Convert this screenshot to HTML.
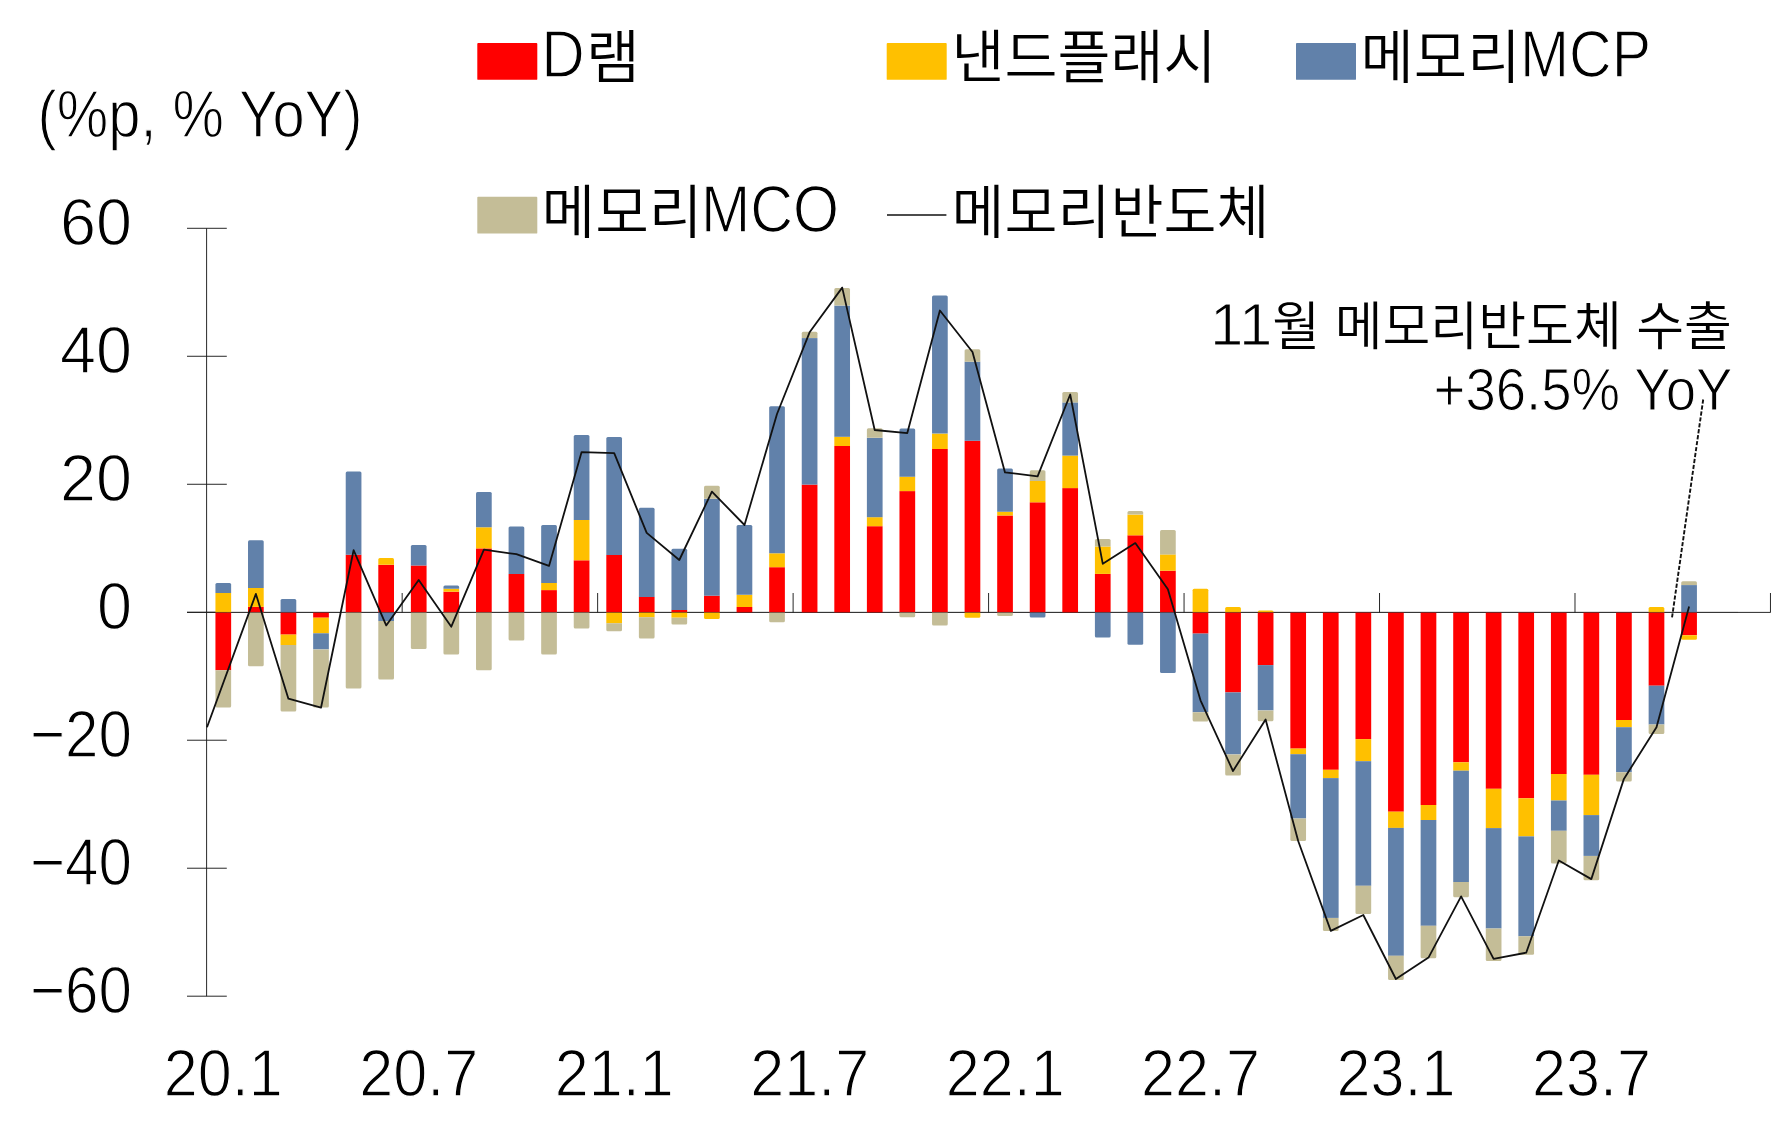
<!DOCTYPE html>
<html lang="ko"><head><meta charset="utf-8"><title>메모리반도체 수출 기여도</title>
<style>
html,body{margin:0;padding:0;background:#fff;}
body{width:1782px;height:1129px;overflow:hidden;font-family:"Liberation Sans","Noto Sans CJK KR",sans-serif;}
svg{display:block}
text{font-family:"Liberation Sans","Noto Sans CJK KR",sans-serif;fill:#000;font-weight:350}
</style></head><body>
<svg width="1782" height="1129" viewBox="0 0 1782 1129">
<rect width="1782" height="1129" fill="#fff"/>
<g stroke="#1c1c1c" stroke-width="0.95" fill="none">
<path d="M206.6 228.3V996.2"/>
<path d="M187 228.30H226.8"/>
<path d="M187 356.28H226.8"/>
<path d="M187 484.27H226.8"/>
<path d="M187 612.25H226.8"/>
<path d="M187 740.23H226.8"/>
<path d="M187 868.22H226.8"/>
<path d="M187 996.20H226.8"/>
<path d="M187 612.40H1770.5"/>
<path d="M402.17 612.50V593"/>
<path d="M597.64 612.50V593"/>
<path d="M793.11 612.50V593"/>
<path d="M988.58 612.50V593"/>
<path d="M1184.05 612.50V593"/>
<path d="M1379.52 612.50V593"/>
<path d="M1574.99 612.50V593"/>
<path d="M1770.46 612.50V593"/>
</g>
<g shape-rendering="geometricPrecision">
<rect x="215.44" y="593.00" width="15.7" height="19.50" fill="#FFC000"/>
<path d="M215.44 593.00V584.50Q215.44 583.00 216.94 583.00H229.64Q231.14 583.00 231.14 584.50V593.00Z" fill="#6181AA"/>
<rect x="215.44" y="612.50" width="15.7" height="57.70" fill="#FF0000"/>
<path d="M215.44 670.20V706.00Q215.44 707.50 216.94 707.50H229.64Q231.14 707.50 231.14 706.00V670.20Z" fill="#C4BD97"/>
<rect x="248.01" y="606.90" width="15.7" height="5.60" fill="#FF0000"/>
<rect x="248.01" y="587.90" width="15.7" height="19.00" fill="#FFC000"/>
<path d="M248.01 587.90V541.80Q248.01 540.30 249.51 540.30H262.21Q263.71 540.30 263.71 541.80V587.90Z" fill="#6181AA"/>
<path d="M248.01 612.50V664.80Q248.01 666.30 249.51 666.30H262.21Q263.71 666.30 263.71 664.80V612.50Z" fill="#C4BD97"/>
<path d="M280.58 612.50V600.60Q280.58 599.10 282.08 599.10H294.78Q296.28 599.10 296.28 600.60V612.50Z" fill="#6181AA"/>
<rect x="280.58" y="612.50" width="15.7" height="22.10" fill="#FF0000"/>
<rect x="280.58" y="634.60" width="15.7" height="10.40" fill="#FFC000"/>
<path d="M280.58 645.00V710.00Q280.58 711.50 282.08 711.50H294.78Q296.28 711.50 296.28 710.00V645.00Z" fill="#C4BD97"/>
<rect x="313.16" y="612.50" width="15.7" height="5.20" fill="#FF0000"/>
<rect x="313.16" y="617.70" width="15.7" height="15.60" fill="#FFC000"/>
<rect x="313.16" y="633.30" width="15.7" height="16.10" fill="#6181AA"/>
<path d="M313.16 649.40V706.00Q313.16 707.50 314.66 707.50H327.36Q328.86 707.50 328.86 706.00V649.40Z" fill="#C4BD97"/>
<rect x="345.73" y="554.70" width="15.7" height="57.80" fill="#FF0000"/>
<path d="M345.73 554.70V473.10Q345.73 471.60 347.23 471.60H359.93Q361.43 471.60 361.43 473.10V554.70Z" fill="#6181AA"/>
<path d="M345.73 612.50V687.10Q345.73 688.60 347.23 688.60H359.93Q361.43 688.60 361.43 687.10V612.50Z" fill="#C4BD97"/>
<rect x="378.30" y="564.80" width="15.7" height="47.70" fill="#FF0000"/>
<path d="M378.30 564.80V559.50Q378.30 558.00 379.80 558.00H392.50Q394.00 558.00 394.00 559.50V564.80Z" fill="#FFC000"/>
<rect x="378.30" y="612.50" width="15.7" height="8.50" fill="#6181AA"/>
<path d="M378.30 621.00V678.10Q378.30 679.60 379.80 679.60H392.50Q394.00 679.60 394.00 678.10V621.00Z" fill="#C4BD97"/>
<rect x="410.87" y="565.50" width="15.7" height="47.00" fill="#FF0000"/>
<path d="M410.87 565.50V546.50Q410.87 545.00 412.37 545.00H425.07Q426.57 545.00 426.57 546.50V565.50Z" fill="#6181AA"/>
<path d="M410.87 612.50V647.40Q410.87 648.90 412.37 648.90H425.07Q426.57 648.90 426.57 647.40V612.50Z" fill="#C4BD97"/>
<rect x="443.45" y="591.70" width="15.7" height="20.80" fill="#FF0000"/>
<rect x="443.45" y="588.80" width="15.7" height="2.90" fill="#FFC000"/>
<path d="M443.45 588.80V586.90Q443.45 585.40 444.95 585.40H457.65Q459.15 585.40 459.15 586.90V588.80Z" fill="#6181AA"/>
<path d="M443.45 612.50V652.90Q443.45 654.40 444.95 654.40H457.65Q459.15 654.40 459.15 652.90V612.50Z" fill="#C4BD97"/>
<rect x="476.02" y="548.40" width="15.7" height="64.10" fill="#FF0000"/>
<rect x="476.02" y="527.30" width="15.7" height="21.10" fill="#FFC000"/>
<path d="M476.02 527.30V493.50Q476.02 492.00 477.52 492.00H490.22Q491.72 492.00 491.72 493.50V527.30Z" fill="#6181AA"/>
<path d="M476.02 612.50V668.70Q476.02 670.20 477.52 670.20H490.22Q491.72 670.20 491.72 668.70V612.50Z" fill="#C4BD97"/>
<rect x="508.59" y="574.00" width="15.7" height="38.50" fill="#FF0000"/>
<path d="M508.59 574.00V527.90Q508.59 526.40 510.09 526.40H522.79Q524.29 526.40 524.29 527.90V574.00Z" fill="#6181AA"/>
<path d="M508.59 612.50V638.90Q508.59 640.40 510.09 640.40H522.79Q524.29 640.40 524.29 638.90V612.50Z" fill="#C4BD97"/>
<rect x="541.17" y="590.10" width="15.7" height="22.40" fill="#FF0000"/>
<rect x="541.17" y="583.00" width="15.7" height="7.10" fill="#FFC000"/>
<path d="M541.17 583.00V526.50Q541.17 525.00 542.67 525.00H555.37Q556.87 525.00 556.87 526.50V583.00Z" fill="#6181AA"/>
<path d="M541.17 612.50V653.00Q541.17 654.50 542.67 654.50H555.37Q556.87 654.50 556.87 653.00V612.50Z" fill="#C4BD97"/>
<rect x="573.74" y="560.30" width="15.7" height="52.20" fill="#FF0000"/>
<rect x="573.74" y="519.90" width="15.7" height="40.40" fill="#FFC000"/>
<path d="M573.74 519.90V436.50Q573.74 435.00 575.24 435.00H587.94Q589.44 435.00 589.44 436.50V519.90Z" fill="#6181AA"/>
<path d="M573.74 612.50V627.00Q573.74 628.50 575.24 628.50H587.94Q589.44 628.50 589.44 627.00V612.50Z" fill="#C4BD97"/>
<rect x="606.31" y="554.90" width="15.7" height="57.60" fill="#FF0000"/>
<path d="M606.31 554.90V438.50Q606.31 437.00 607.81 437.00H620.51Q622.01 437.00 622.01 438.50V554.90Z" fill="#6181AA"/>
<rect x="606.31" y="612.50" width="15.7" height="10.80" fill="#FFC000"/>
<path d="M606.31 623.30V629.70Q606.31 631.20 607.81 631.20H620.51Q622.01 631.20 622.01 629.70V623.30Z" fill="#C4BD97"/>
<rect x="638.88" y="596.90" width="15.7" height="15.60" fill="#FF0000"/>
<path d="M638.88 596.90V509.20Q638.88 507.70 640.38 507.70H653.08Q654.58 507.70 654.58 509.20V596.90Z" fill="#6181AA"/>
<rect x="638.88" y="612.50" width="15.7" height="4.80" fill="#FFC000"/>
<path d="M638.88 617.30V636.90Q638.88 638.40 640.38 638.40H653.08Q654.58 638.40 654.58 636.90V617.30Z" fill="#C4BD97"/>
<rect x="671.46" y="609.90" width="15.7" height="2.60" fill="#FF0000"/>
<path d="M671.46 609.90V550.30Q671.46 548.80 672.96 548.80H685.66Q687.16 548.80 687.16 550.30V609.90Z" fill="#6181AA"/>
<rect x="671.46" y="612.50" width="15.7" height="5.20" fill="#FFC000"/>
<path d="M671.46 617.70V623.00Q671.46 624.50 672.96 624.50H685.66Q687.16 624.50 687.16 623.00V617.70Z" fill="#C4BD97"/>
<rect x="704.03" y="595.70" width="15.7" height="16.80" fill="#FF0000"/>
<rect x="704.03" y="498.80" width="15.7" height="96.90" fill="#6181AA"/>
<path d="M704.03 498.80V487.20Q704.03 485.70 705.53 485.70H718.23Q719.73 485.70 719.73 487.20V498.80Z" fill="#C4BD97"/>
<path d="M704.03 612.50V617.40Q704.03 618.90 705.53 618.90H718.23Q719.73 618.90 719.73 617.40V612.50Z" fill="#FFC000"/>
<rect x="736.60" y="607.00" width="15.7" height="5.50" fill="#FF0000"/>
<rect x="736.60" y="594.80" width="15.7" height="12.20" fill="#FFC000"/>
<path d="M736.60 594.80V526.50Q736.60 525.00 738.10 525.00H750.80Q752.30 525.00 752.30 526.50V594.80Z" fill="#6181AA"/>
<rect x="769.18" y="567.20" width="15.7" height="45.30" fill="#FF0000"/>
<rect x="769.18" y="553.30" width="15.7" height="13.90" fill="#FFC000"/>
<path d="M769.18 553.30V407.70Q769.18 406.20 770.68 406.20H783.38Q784.88 406.20 784.88 407.70V553.30Z" fill="#6181AA"/>
<path d="M769.18 612.50V620.70Q769.18 622.20 770.68 622.20H783.38Q784.88 622.20 784.88 620.70V612.50Z" fill="#C4BD97"/>
<rect x="801.75" y="484.60" width="15.7" height="127.90" fill="#FF0000"/>
<rect x="801.75" y="338.10" width="15.7" height="146.50" fill="#6181AA"/>
<path d="M801.75 338.10V333.30Q801.75 331.80 803.25 331.80H815.95Q817.45 331.80 817.45 333.30V338.10Z" fill="#C4BD97"/>
<rect x="834.32" y="446.00" width="15.7" height="166.50" fill="#FF0000"/>
<rect x="834.32" y="436.80" width="15.7" height="9.20" fill="#FFC000"/>
<rect x="834.32" y="305.60" width="15.7" height="131.20" fill="#6181AA"/>
<path d="M834.32 305.60V289.60Q834.32 288.10 835.82 288.10H848.52Q850.02 288.10 850.02 289.60V305.60Z" fill="#C4BD97"/>
<rect x="866.89" y="526.20" width="15.7" height="86.30" fill="#FF0000"/>
<rect x="866.89" y="517.20" width="15.7" height="9.00" fill="#FFC000"/>
<rect x="866.89" y="437.80" width="15.7" height="79.40" fill="#6181AA"/>
<path d="M866.89 437.80V429.70Q866.89 428.20 868.39 428.20H881.09Q882.59 428.20 882.59 429.70V437.80Z" fill="#C4BD97"/>
<rect x="899.47" y="491.10" width="15.7" height="121.40" fill="#FF0000"/>
<rect x="899.47" y="476.70" width="15.7" height="14.40" fill="#FFC000"/>
<path d="M899.47 476.70V429.90Q899.47 428.40 900.97 428.40H913.67Q915.17 428.40 915.17 429.90V476.70Z" fill="#6181AA"/>
<path d="M899.47 612.50V615.80Q899.47 617.30 900.97 617.30H913.67Q915.17 617.30 915.17 615.80V612.50Z" fill="#C4BD97"/>
<rect x="932.04" y="449.00" width="15.7" height="163.50" fill="#FF0000"/>
<rect x="932.04" y="433.60" width="15.7" height="15.40" fill="#FFC000"/>
<path d="M932.04 433.60V297.00Q932.04 295.50 933.54 295.50H946.24Q947.74 295.50 947.74 297.00V433.60Z" fill="#6181AA"/>
<path d="M932.04 612.50V624.10Q932.04 625.60 933.54 625.60H946.24Q947.74 625.60 947.74 624.10V612.50Z" fill="#C4BD97"/>
<rect x="964.61" y="440.80" width="15.7" height="171.70" fill="#FF0000"/>
<rect x="964.61" y="361.70" width="15.7" height="79.10" fill="#6181AA"/>
<path d="M964.61 361.70V350.80Q964.61 349.30 966.11 349.30H978.81Q980.31 349.30 980.31 350.80V361.70Z" fill="#C4BD97"/>
<path d="M964.61 612.50V616.20Q964.61 617.70 966.11 617.70H978.81Q980.31 617.70 980.31 616.20V612.50Z" fill="#FFC000"/>
<rect x="997.19" y="515.50" width="15.7" height="97.00" fill="#FF0000"/>
<rect x="997.19" y="511.70" width="15.7" height="3.80" fill="#FFC000"/>
<path d="M997.19 511.70V469.90Q997.19 468.40 998.69 468.40H1011.39Q1012.89 468.40 1012.89 469.90V511.70Z" fill="#6181AA"/>
<path d="M997.19 612.50V614.60Q997.19 616.10 998.69 616.10H1011.39Q1012.89 616.10 1012.89 614.60V612.50Z" fill="#C4BD97"/>
<rect x="1029.76" y="502.30" width="15.7" height="110.20" fill="#FF0000"/>
<rect x="1029.76" y="481.00" width="15.7" height="21.30" fill="#FFC000"/>
<path d="M1029.76 481.00V471.70Q1029.76 470.20 1031.26 470.20H1043.96Q1045.46 470.20 1045.46 471.70V481.00Z" fill="#C4BD97"/>
<path d="M1029.76 612.50V616.00Q1029.76 617.50 1031.26 617.50H1043.96Q1045.46 617.50 1045.46 616.00V612.50Z" fill="#6181AA"/>
<rect x="1062.33" y="488.10" width="15.7" height="124.40" fill="#FF0000"/>
<rect x="1062.33" y="455.60" width="15.7" height="32.50" fill="#FFC000"/>
<rect x="1062.33" y="402.40" width="15.7" height="53.20" fill="#6181AA"/>
<path d="M1062.33 402.40V393.60Q1062.33 392.10 1063.83 392.10H1076.53Q1078.03 392.10 1078.03 393.60V402.40Z" fill="#C4BD97"/>
<rect x="1094.91" y="573.90" width="15.7" height="38.60" fill="#FF0000"/>
<rect x="1094.91" y="546.50" width="15.7" height="27.40" fill="#FFC000"/>
<path d="M1094.91 546.50V540.60Q1094.91 539.10 1096.41 539.10H1109.11Q1110.61 539.10 1110.61 540.60V546.50Z" fill="#C4BD97"/>
<path d="M1094.91 612.50V635.90Q1094.91 637.40 1096.41 637.40H1109.11Q1110.61 637.40 1110.61 635.90V612.50Z" fill="#6181AA"/>
<rect x="1127.48" y="535.30" width="15.7" height="77.20" fill="#FF0000"/>
<rect x="1127.48" y="514.60" width="15.7" height="20.70" fill="#FFC000"/>
<path d="M1127.48 514.60V512.50Q1127.48 511.00 1128.98 511.00H1141.68Q1143.18 511.00 1143.18 512.50V514.60Z" fill="#C4BD97"/>
<path d="M1127.48 612.50V643.30Q1127.48 644.80 1128.98 644.80H1141.68Q1143.18 644.80 1143.18 643.30V612.50Z" fill="#6181AA"/>
<rect x="1160.05" y="570.70" width="15.7" height="41.80" fill="#FF0000"/>
<rect x="1160.05" y="554.40" width="15.7" height="16.30" fill="#FFC000"/>
<path d="M1160.05 554.40V531.40Q1160.05 529.90 1161.55 529.90H1174.25Q1175.75 529.90 1175.75 531.40V554.40Z" fill="#C4BD97"/>
<path d="M1160.05 612.50V671.40Q1160.05 672.90 1161.55 672.90H1174.25Q1175.75 672.90 1175.75 671.40V612.50Z" fill="#6181AA"/>
<path d="M1192.62 612.50V590.20Q1192.62 588.70 1194.12 588.70H1206.82Q1208.32 588.70 1208.32 590.20V612.50Z" fill="#FFC000"/>
<rect x="1192.62" y="612.50" width="15.7" height="21.10" fill="#FF0000"/>
<rect x="1192.62" y="633.60" width="15.7" height="78.60" fill="#6181AA"/>
<path d="M1192.62 712.20V720.10Q1192.62 721.60 1194.12 721.60H1206.82Q1208.32 721.60 1208.32 720.10V712.20Z" fill="#C4BD97"/>
<path d="M1225.20 612.50V608.60Q1225.20 607.10 1226.70 607.10H1239.40Q1240.90 607.10 1240.90 608.60V612.50Z" fill="#FFC000"/>
<rect x="1225.20" y="612.50" width="15.7" height="79.90" fill="#FF0000"/>
<rect x="1225.20" y="692.40" width="15.7" height="62.00" fill="#6181AA"/>
<path d="M1225.20 754.40V774.00Q1225.20 775.50 1226.70 775.50H1239.40Q1240.90 775.50 1240.90 774.00V754.40Z" fill="#C4BD97"/>
<path d="M1257.77 612.50V612.00Q1257.77 610.50 1259.27 610.50H1271.97Q1273.47 610.50 1273.47 612.00V612.50Z" fill="#FFC000"/>
<rect x="1257.77" y="612.50" width="15.7" height="52.60" fill="#FF0000"/>
<rect x="1257.77" y="665.10" width="15.7" height="45.30" fill="#6181AA"/>
<path d="M1257.77 710.40V719.70Q1257.77 721.20 1259.27 721.20H1271.97Q1273.47 721.20 1273.47 719.70V710.40Z" fill="#C4BD97"/>
<rect x="1290.34" y="612.50" width="15.7" height="136.10" fill="#FF0000"/>
<rect x="1290.34" y="748.60" width="15.7" height="5.60" fill="#FFC000"/>
<rect x="1290.34" y="754.20" width="15.7" height="64.30" fill="#6181AA"/>
<path d="M1290.34 818.50V839.40Q1290.34 840.90 1291.84 840.90H1304.54Q1306.04 840.90 1306.04 839.40V818.50Z" fill="#C4BD97"/>
<rect x="1322.92" y="612.50" width="15.7" height="157.30" fill="#FF0000"/>
<rect x="1322.92" y="769.80" width="15.7" height="8.30" fill="#FFC000"/>
<rect x="1322.92" y="778.10" width="15.7" height="139.80" fill="#6181AA"/>
<path d="M1322.92 917.90V929.40Q1322.92 930.90 1324.42 930.90H1337.12Q1338.62 930.90 1338.62 929.40V917.90Z" fill="#C4BD97"/>
<rect x="1355.49" y="612.50" width="15.7" height="126.60" fill="#FF0000"/>
<rect x="1355.49" y="739.10" width="15.7" height="22.10" fill="#FFC000"/>
<rect x="1355.49" y="761.20" width="15.7" height="124.60" fill="#6181AA"/>
<path d="M1355.49 885.80V912.40Q1355.49 913.90 1356.99 913.90H1369.69Q1371.19 913.90 1371.19 912.40V885.80Z" fill="#C4BD97"/>
<rect x="1388.06" y="612.50" width="15.7" height="199.20" fill="#FF0000"/>
<rect x="1388.06" y="811.70" width="15.7" height="16.20" fill="#FFC000"/>
<rect x="1388.06" y="827.90" width="15.7" height="127.90" fill="#6181AA"/>
<path d="M1388.06 955.80V978.60Q1388.06 980.10 1389.56 980.10H1402.26Q1403.76 980.10 1403.76 978.60V955.80Z" fill="#C4BD97"/>
<rect x="1420.63" y="612.50" width="15.7" height="192.50" fill="#FF0000"/>
<rect x="1420.63" y="805.00" width="15.7" height="15.00" fill="#FFC000"/>
<rect x="1420.63" y="820.00" width="15.7" height="105.80" fill="#6181AA"/>
<path d="M1420.63 925.80V956.80Q1420.63 958.30 1422.13 958.30H1434.83Q1436.33 958.30 1436.33 956.80V925.80Z" fill="#C4BD97"/>
<rect x="1453.21" y="612.50" width="15.7" height="149.80" fill="#FF0000"/>
<rect x="1453.21" y="762.30" width="15.7" height="8.40" fill="#FFC000"/>
<rect x="1453.21" y="770.70" width="15.7" height="111.30" fill="#6181AA"/>
<path d="M1453.21 882.00V895.80Q1453.21 897.30 1454.71 897.30H1467.41Q1468.91 897.30 1468.91 895.80V882.00Z" fill="#C4BD97"/>
<rect x="1485.78" y="612.50" width="15.7" height="176.30" fill="#FF0000"/>
<rect x="1485.78" y="788.80" width="15.7" height="39.30" fill="#FFC000"/>
<rect x="1485.78" y="828.10" width="15.7" height="100.40" fill="#6181AA"/>
<path d="M1485.78 928.50V959.50Q1485.78 961.00 1487.28 961.00H1499.98Q1501.48 961.00 1501.48 959.50V928.50Z" fill="#C4BD97"/>
<rect x="1518.35" y="612.50" width="15.7" height="185.80" fill="#FF0000"/>
<rect x="1518.35" y="798.30" width="15.7" height="38.10" fill="#FFC000"/>
<rect x="1518.35" y="836.40" width="15.7" height="99.90" fill="#6181AA"/>
<path d="M1518.35 936.30V953.20Q1518.35 954.70 1519.85 954.70H1532.55Q1534.05 954.70 1534.05 953.20V936.30Z" fill="#C4BD97"/>
<rect x="1550.93" y="612.50" width="15.7" height="161.50" fill="#FF0000"/>
<rect x="1550.93" y="774.00" width="15.7" height="26.50" fill="#FFC000"/>
<rect x="1550.93" y="800.50" width="15.7" height="30.30" fill="#6181AA"/>
<path d="M1550.93 830.80V861.90Q1550.93 863.40 1552.43 863.40H1565.13Q1566.63 863.40 1566.63 861.90V830.80Z" fill="#C4BD97"/>
<rect x="1583.50" y="612.50" width="15.7" height="162.30" fill="#FF0000"/>
<rect x="1583.50" y="774.80" width="15.7" height="40.30" fill="#FFC000"/>
<rect x="1583.50" y="815.10" width="15.7" height="40.80" fill="#6181AA"/>
<path d="M1583.50 855.90V878.70Q1583.50 880.20 1585.00 880.20H1597.70Q1599.20 880.20 1599.20 878.70V855.90Z" fill="#C4BD97"/>
<rect x="1616.07" y="612.50" width="15.7" height="107.50" fill="#FF0000"/>
<rect x="1616.07" y="720.00" width="15.7" height="7.20" fill="#FFC000"/>
<rect x="1616.07" y="727.20" width="15.7" height="45.00" fill="#6181AA"/>
<path d="M1616.07 772.20V780.00Q1616.07 781.50 1617.57 781.50H1630.27Q1631.77 781.50 1631.77 780.00V772.20Z" fill="#C4BD97"/>
<path d="M1648.64 612.50V608.60Q1648.64 607.10 1650.14 607.10H1662.84Q1664.34 607.10 1664.34 608.60V612.50Z" fill="#FFC000"/>
<rect x="1648.64" y="612.50" width="15.7" height="73.20" fill="#FF0000"/>
<rect x="1648.64" y="685.70" width="15.7" height="38.80" fill="#6181AA"/>
<path d="M1648.64 724.50V732.50Q1648.64 734.00 1650.14 734.00H1662.84Q1664.34 734.00 1664.34 732.50V724.50Z" fill="#C4BD97"/>
<rect x="1681.22" y="585.10" width="15.7" height="27.40" fill="#6181AA"/>
<path d="M1681.22 585.10V582.80Q1681.22 581.30 1682.72 581.30H1695.42Q1696.92 581.30 1696.92 582.80V585.10Z" fill="#C4BD97"/>
<rect x="1681.22" y="612.50" width="15.7" height="22.70" fill="#FF0000"/>
<path d="M1681.22 635.20V638.20Q1681.22 639.70 1682.72 639.70H1695.42Q1696.92 639.70 1696.92 638.20V635.20Z" fill="#FFC000"/>
</g>
<path d="M207 612.40H1738" stroke="#262626" stroke-width="0.95" opacity="0.4" fill="none"/>
<polyline fill="none" stroke="#111" stroke-width="1.8" stroke-linejoin="round" points="207.0,727.2 255.9,593.9 288.4,698.7 321.0,707.7 353.6,550.2 386.2,625.4 418.7,580.0 451.3,626.7 483.9,549.7 516.4,554.2 549.0,565.9 581.6,452.1 614.2,453.2 646.7,532.9 679.3,560.0 711.9,491.6 744.5,525.0 777.0,414.0 809.6,332.3 842.2,287.6 874.7,430.0 907.3,433.1 939.9,310.5 972.5,352.0 1005.0,472.4 1037.6,476.3 1070.2,394.5 1102.8,563.8 1135.3,543.1 1167.9,589.2 1200.5,700.3 1233.0,771.0 1265.6,719.4 1298.2,841.0 1330.8,930.9 1363.3,915.0 1395.9,979.0 1428.5,957.6 1461.1,896.4 1493.6,958.8 1526.2,952.7 1558.8,860.5 1591.3,879.1 1623.9,778.9 1656.5,727.2 1689.1,606.5"/>
<path d="M1703.2 399.5L1671.9 618.4" stroke="#111" stroke-width="1.9" stroke-dasharray="4.2 1.8" fill="none"/>
<rect x="477.3" y="43" width="60" height="36.8" rx="0.9" fill="#FF0000"/>
<rect x="886.7" y="43" width="60" height="36.8" rx="0.9" fill="#FFC000"/>
<rect x="1296" y="43" width="60" height="36.8" rx="0.9" fill="#6181AA"/>
<rect x="477.3" y="196.8" width="60" height="36.8" rx="0.9" fill="#C4BD97"/>
<path d="M887 215H946.4" stroke="#111" stroke-width="1.5"/>
<text x="541.3" y="77.3" text-anchor="start" textLength="43.5" lengthAdjust="spacingAndGlyphs"><tspan font-size="67" stroke="#fff" stroke-width="1.30">D</tspan></text>
<text x="586" y="78" text-anchor="start"><tspan font-size="58.5">램</tspan></text>
<text x="951.5" y="78" text-anchor="start" textLength="265" lengthAdjust="spacingAndGlyphs"><tspan font-size="58.5">낸드플래시</tspan></text>
<text x="1360.5" y="78" text-anchor="start" textLength="160" lengthAdjust="spacingAndGlyphs"><tspan font-size="58.5">메모리</tspan></text>
<text x="1520" y="77.3" text-anchor="start" textLength="131" lengthAdjust="spacingAndGlyphs"><tspan font-size="67" stroke="#fff" stroke-width="1.30">MCP</tspan></text>
<text x="541.5" y="233" text-anchor="start" textLength="161" lengthAdjust="spacingAndGlyphs"><tspan font-size="58.5">메모리</tspan></text>
<text x="701" y="232.2" text-anchor="start" textLength="138" lengthAdjust="spacingAndGlyphs"><tspan font-size="67" stroke="#fff" stroke-width="1.30">MCO</tspan></text>
<text x="951.5" y="233" text-anchor="start" textLength="318" lengthAdjust="spacingAndGlyphs"><tspan font-size="58.5">메모리반도체</tspan></text>
<text x="37.5" y="137.4" text-anchor="start" textLength="325" lengthAdjust="spacingAndGlyphs"><tspan font-size="67" stroke="#fff" stroke-width="1.30">(%p, % YoY)</tspan></text>
<text x="132" y="245.0" text-anchor="end" textLength="72" lengthAdjust="spacingAndGlyphs"><tspan font-size="67" stroke="#fff" stroke-width="1.30">60</tspan></text>
<text x="132" y="373.0" text-anchor="end" textLength="72" lengthAdjust="spacingAndGlyphs"><tspan font-size="67" stroke="#fff" stroke-width="1.30">40</tspan></text>
<text x="132" y="501.0" text-anchor="end" textLength="72" lengthAdjust="spacingAndGlyphs"><tspan font-size="67" stroke="#fff" stroke-width="1.30">20</tspan></text>
<text x="132" y="629.0" text-anchor="end" textLength="35" lengthAdjust="spacingAndGlyphs"><tspan font-size="67" stroke="#fff" stroke-width="1.30">0</tspan></text>
<text x="132" y="756.9" text-anchor="end" textLength="102" lengthAdjust="spacingAndGlyphs"><tspan font-size="67" stroke="#fff" stroke-width="1.30">−20</tspan></text>
<text x="132" y="884.9" text-anchor="end" textLength="102" lengthAdjust="spacingAndGlyphs"><tspan font-size="67" stroke="#fff" stroke-width="1.30">−40</tspan></text>
<text x="132" y="1012.9" text-anchor="end" textLength="102" lengthAdjust="spacingAndGlyphs"><tspan font-size="67" stroke="#fff" stroke-width="1.30">−60</tspan></text>
<text x="223.3" y="1095.9" text-anchor="middle" textLength="119" lengthAdjust="spacingAndGlyphs"><tspan font-size="67" stroke="#fff" stroke-width="1.30">20.1</tspan></text>
<text x="418.8" y="1095.9" text-anchor="middle" textLength="119" lengthAdjust="spacingAndGlyphs"><tspan font-size="67" stroke="#fff" stroke-width="1.30">20.7</tspan></text>
<text x="614.2" y="1095.9" text-anchor="middle" textLength="119" lengthAdjust="spacingAndGlyphs"><tspan font-size="67" stroke="#fff" stroke-width="1.30">21.1</tspan></text>
<text x="809.7" y="1095.9" text-anchor="middle" textLength="119" lengthAdjust="spacingAndGlyphs"><tspan font-size="67" stroke="#fff" stroke-width="1.30">21.7</tspan></text>
<text x="1005.2" y="1095.9" text-anchor="middle" textLength="119" lengthAdjust="spacingAndGlyphs"><tspan font-size="67" stroke="#fff" stroke-width="1.30">22.1</tspan></text>
<text x="1200.6" y="1095.9" text-anchor="middle" textLength="119" lengthAdjust="spacingAndGlyphs"><tspan font-size="67" stroke="#fff" stroke-width="1.30">22.7</tspan></text>
<text x="1396.1" y="1095.9" text-anchor="middle" textLength="119" lengthAdjust="spacingAndGlyphs"><tspan font-size="67" stroke="#fff" stroke-width="1.30">23.1</tspan></text>
<text x="1591.6" y="1095.9" text-anchor="middle" textLength="119" lengthAdjust="spacingAndGlyphs"><tspan font-size="67" stroke="#fff" stroke-width="1.30">23.7</tspan></text>
<text x="1732" y="345" text-anchor="end" textLength="522" lengthAdjust="spacingAndGlyphs"><tspan font-size="60" stroke="#fff" stroke-width="1.16">11</tspan><tspan font-size="52">월 메모리반도체 수출</tspan></text>
<text x="1732.5" y="410" text-anchor="end" textLength="299" lengthAdjust="spacingAndGlyphs"><tspan font-size="60" stroke="#fff" stroke-width="1.16">+36.5% YoY</tspan></text>
</svg></body></html>
